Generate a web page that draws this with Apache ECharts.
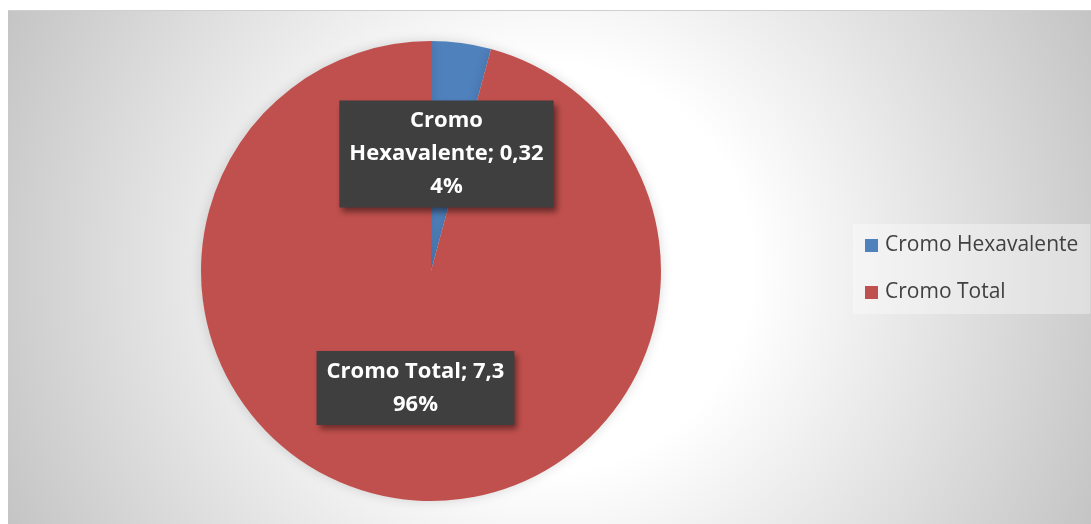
<!DOCTYPE html>
<html>
<head>
<meta charset="utf-8">
<script src="https://cdn.jsdelivr.net/npm/echarts@6/dist/echarts.min.js"></script>
<style>
  html, body { margin: 0; padding: 0; background: #fff; }
  #chart {
    position: absolute;
    left: 8px;
    top: 10px;
    width: 1083px;
    height: 513px;
    border-top: 1px solid #cfcfcf;
  }
</style>
</head>
<body>
<div id="chart"></div>
<script>
// datos
const categories = ['Cromo Hexavalente', 'Cromo Total'];
const values = [0.32, 7.3];
const colors = ['#4f81bd', '#c0504d'];

const chart = echarts.init(document.getElementById('chart'));

const fmtNum = v => String(v).replace('.', ',');

chart.setOption({
    backgroundColor: {
        type: 'radial',
        x: 0.5,
        y: 0.5,
        r: 1.2,
        colorStops: [
            { offset: 0, color: '#ffffff' },
            { offset: 0.33, color: '#ffffff' },
            { offset: 1, color: '#c2c2c2' }
        ]
    },
    textStyle: { fontFamily: 'Open Sans' },
    legend: {
        orient: 'vertical',
        left: 845,
        top: 213,
        padding: [11, 12, 11, 12],
        backgroundColor: 'rgba(255,255,255,0.35)',
        icon: 'rect',
        itemWidth: 13,
        itemHeight: 13,
        itemGap: 26,
        data: categories,
        textStyle: { fontFamily: 'Open Sans', fontSize: 21, color: '#404040', padding: [0, 0, 0, 2] }
    },
    series: [{
        type: 'pie',
        center: [423, 260],
        radius: 230,
        startAngle: 90,
        clockwise: true,
        avoidLabelOverlap: false,
        emphasis: { disabled: true },
        itemStyle: {
            shadowBlur: 12,
            shadowColor: 'rgba(0,0,0,0.15)'
        },
        label: {
            position: 'inside',
            color: '#fff',
            fontFamily: 'Open Sans',
            fontWeight: 'bold',
            fontSize: 22,
            lineHeight: 33,
            align: 'center',
            backgroundColor: '#3f3f3f',
            padding: [4, 10, 4, 10],
            shadowBlur: 6,
            shadowOffsetX: 3,
            shadowOffsetY: 4,
            shadowColor: 'rgba(0,0,0,0.45)',
            formatter: p => {
                const name = p.name.length > 12 ? p.name.replace(' ', '\n') : p.name;
                return name + '; ' + fmtNum(p.value) + '\n' + Math.round(p.percent) + '%';
            }
        },
        labelLine: { show: false },
        data: categories.map((c, i) => ({
            name: c,
            value: values[i],
            itemStyle: { color: colors[i] }
        }))
    }]
});
</script>
</body>
</html>
